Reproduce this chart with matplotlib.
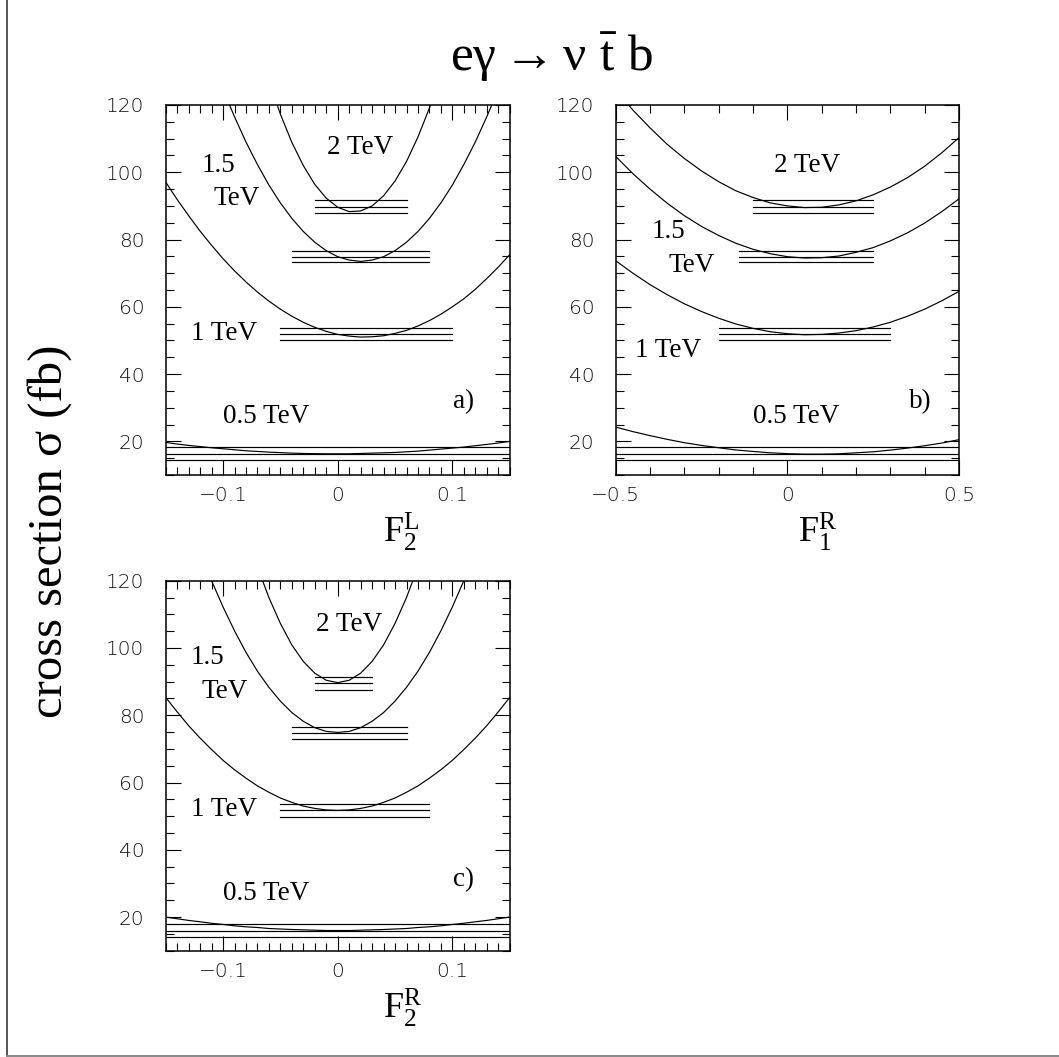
import numpy as np
import matplotlib
matplotlib.use("Agg")
import matplotlib.pyplot as plt
from matplotlib.ticker import MultipleLocator, FixedLocator, FixedFormatter
from matplotlib.lines import Line2D

plt.rcParams['mathtext.fontset'] = 'custom'
plt.rcParams['mathtext.rm'] = 'Liberation Serif'
plt.rcParams['mathtext.it'] = 'Liberation Serif'
plt.rcParams['mathtext.bf'] = 'Liberation Serif:bold'
plt.rcParams['mathtext.fallback'] = 'stix'

# ---------------- data ----------------
energies = ['0.5 TeV', '1 TeV', '1.5 TeV', '2 TeV']

# panel a)  F2L
xa_full = [-0.15, -0.14, -0.13, -0.12, -0.11, -0.10, -0.09, -0.08, -0.07, -0.06, -0.05,
           -0.04, -0.03, -0.02, -0.01, 0.00, 0.01, 0.02, 0.03, 0.04, 0.05, 0.06, 0.07,
           0.08, 0.09, 0.10, 0.11, 0.12, 0.13, 0.14, 0.15]
a_05 = [19.7, 19.2, 18.8, 18.45, 18.1, 17.8, 17.5, 17.2, 17.0, 16.8, 16.65, 16.5, 16.4, 16.35, 16.3,
        16.3, 16.3, 16.4, 16.5, 16.6, 16.7, 16.9, 17.1, 17.4, 17.7, 18.0, 18.3, 18.7, 19.1, 19.5, 20.0]
a_1 = [97.1, 91.9, 87.1, 82.5, 78.3, 74.3, 70.7, 67.4, 64.4, 61.7, 59.3, 57.2, 55.4, 53.9, 52.7,
       51.8, 51.3, 51.0, 51.1, 51.4, 52.1, 53.0, 54.3, 55.9, 57.8, 60.0, 62.4, 65.2, 68.4, 71.8, 75.5]
xa_15 = [-0.10, -0.09, -0.08, -0.07, -0.06, -0.05, -0.04, -0.03, -0.02, -0.01, 0.00, 0.01, 0.02,
         0.03, 0.04, 0.05, 0.06, 0.07, 0.08, 0.09, 0.10, 0.11, 0.12, 0.13, 0.14, 0.15]
a_15 = [124.6, 116.5, 109.0, 102.3, 96.2, 90.9, 86.3, 82.4, 79.2, 76.7, 74.9, 73.9, 73.5,
        73.9, 74.9, 76.7, 79.2, 82.4, 86.3, 90.9, 96.2, 102.3, 109.0, 116.5, 124.6, 133.5]
xa_2 = [-0.06, -0.05, -0.04, -0.03, -0.02, -0.01, 0.00, 0.01, 0.02, 0.03, 0.04, 0.05, 0.06,
        0.07, 0.08, 0.09]
a_2 = [127.1, 117.3, 108.9, 102.0, 96.4, 92.3, 89.6, 88.3, 88.5, 90.0, 93.0, 97.4, 103.2,
       110.5, 119.1, 129.2]

# panel b)  F1R
xb = [-0.50, -0.45, -0.40, -0.35, -0.30, -0.25, -0.20, -0.15, -0.10, -0.05, 0.00,
      0.05, 0.10, 0.15, 0.20, 0.25, 0.30, 0.35, 0.40, 0.45, 0.50]
b_05 = [24.25, 22.9, 21.7, 20.6, 19.6, 18.8, 18.1, 17.45, 17.0, 16.6, 16.35,
        16.2, 16.2, 16.3, 16.6, 16.9, 17.4, 18.0, 18.7, 19.5, 20.5]
b_1 = [73.7, 70.0, 66.6, 63.6, 60.9, 58.6, 56.6, 54.9, 53.6, 52.6, 52.0,
       51.7, 51.8, 52.2, 52.9, 54.0, 55.4, 57.2, 59.3, 61.8, 64.6]
b_15 = [104.7, 99.6, 95.0, 90.8, 87.1, 83.9, 81.2, 78.9, 77.1, 75.8, 74.9,
        74.5, 74.6, 75.1, 76.2, 77.6, 79.6, 82.0, 84.9, 88.3, 92.1]
b_2 = [124.5, 118.5, 113.2, 108.3, 104.1, 100.4, 97.2, 94.5, 92.5, 90.9, 90.0,
       89.5, 89.6, 90.3, 91.5, 93.3, 95.6, 98.4, 101.8, 105.8, 110.3]

# panel c)  F2R
xc_full = xa_full
c_05 = [20.0, 19.5, 19.0, 18.6, 18.15, 17.8, 17.4, 17.1, 16.9, 16.6, 16.45, 16.3, 16.2, 16.1, 16.0,
        16.0, 16.0, 16.1, 16.2, 16.3, 16.45, 16.6, 16.9, 17.1, 17.4, 17.8, 18.15, 18.6, 19.0, 19.5, 20.0]
c_1 = [85.3, 81.0, 76.9, 73.2, 69.8, 66.6, 63.8, 61.3, 59.0, 57.1, 55.4, 54.1, 53.0, 52.3, 51.85,
       51.7, 51.85, 52.3, 53.0, 54.1, 55.4, 57.1, 59.0, 61.3, 63.8, 66.6, 69.8, 73.2, 76.9, 81.0, 85.3]
xc_15 = [-0.12, -0.11, -0.10, -0.09, -0.08, -0.07, -0.06, -0.05, -0.04, -0.03, -0.02, -0.01, 0.00,
         0.01, 0.02, 0.03, 0.04, 0.05, 0.06, 0.07, 0.08, 0.09, 0.10, 0.11, 0.12]
c_15 = [128.6, 120.0, 112.2, 105.1, 98.7, 93.1, 88.3, 84.2, 80.8, 78.2, 76.3, 75.2, 74.9,
        75.2, 76.3, 78.2, 80.8, 84.2, 88.3, 93.1, 98.7, 105.1, 112.2, 120.0, 128.6]
xc_2 = [-0.07, -0.06, -0.05, -0.04, -0.03, -0.02, -0.01, 0.00, 0.01, 0.02, 0.03, 0.04, 0.05, 0.06, 0.07]
c_2 = [124.1, 115.0, 107.3, 100.9, 96.0, 92.5, 90.4, 89.7, 90.4, 92.5, 96.0, 100.9, 107.3, 115.0, 124.1]

# horizontal bands (SM value and limits): y levels and x-extent
a_band_y = [[18.2, 16.25, 14.35], [53.6, 51.9, 50.1], [76.6, 74.95, 73.2], [91.8, 89.8, 87.8]]
a_band_x = [[-0.15, 0.15], [-0.05, 0.10], [-0.04, 0.08], [-0.02, 0.06]]
b_band_y = [[18.2, 16.25, 14.35], [53.6, 51.9, 50.1], [76.6, 74.95, 73.2], [91.8, 89.8, 87.8]]
b_band_x = [[-0.5, 0.5], [-0.20, 0.30], [-0.14, 0.25], [-0.10, 0.25]]
c_band_y = [[18.0, 16.0, 14.0], [53.6, 51.7, 49.8], [76.6, 74.85, 73.0], [91.5, 89.5, 87.5]]
c_band_x = [[-0.15, 0.15], [-0.05, 0.08], [-0.04, 0.06], [-0.02, 0.03]]

y_ticks = [20, 40, 60, 80, 100, 120]
y_ticklabels = ['20', '40', '60', '80', '100', '120']
xac_ticks = [-0.1, 0.0, 0.1]
xac_ticklabels = ['\u22120.1', '0', '0.1']
xb_ticks = [-0.5, 0.0, 0.5]
xb_ticklabels = ['\u22120.5', '0', '0.5']

# ---------------- figure ----------------
W, H = 1059, 1057
fig = plt.figure(figsize=(W / 100, H / 100), dpi=100)

def fx(px):
    return px / W

def fy(py):
    return 1 - py / H

def make_axes(left, top, right, bottom):
    return fig.add_axes([fx(left), fy(bottom), fx(right) - fx(left), fy(top) - fy(bottom)])

ax_a = make_axes(165.7, 105, 509.7, 475)
ax_b = make_axes(615.7, 105, 959.0, 475)
ax_c = make_axes(165.7, 580.7, 509.7, 950.7)

serif = 'Liberation Serif'
tick_font = 'DejaVu Sans'
curve_kw = dict(color='black', lw=0.85)
band_kw = dict(color='black', lw=0.85)
lab_kw = dict(family=serif, fontsize=19.5, ha='left', va='baseline')


def style(ax, xlim, xticks, xlabels, xminor):
    ax.set_xlim(*xlim)
    ax.set_ylim(10, 120)
    ax.xaxis.set_major_locator(FixedLocator(xticks))
    ax.xaxis.set_major_formatter(FixedFormatter(xlabels))
    ax.xaxis.set_minor_locator(MultipleLocator(xminor))
    ax.yaxis.set_major_locator(FixedLocator(y_ticks))
    ax.yaxis.set_major_formatter(FixedFormatter(y_ticklabels))
    ax.yaxis.set_minor_locator(MultipleLocator(5))
    ax.tick_params(which='both', direction='in', top=True, right=True, width=0.8, color='black')
    ax.tick_params(which='major', length=11)
    ax.tick_params(which='minor', length=5.5)
    ax.tick_params(axis='y', which='major', pad=15.5, labelsize=14.5, labelcolor='#111111')
    ax.tick_params(axis='x', which='major', pad=8, labelsize=14.5, labelcolor='#111111')
    for lab in ax.get_xticklabels() + ax.get_yticklabels():
        lab.set_family(tick_font)
        lab.set_fontweight('light')
    for sp in ax.spines.values():
        sp.set_linewidth(1.1)


def bands(ax, ys, xs):
    for yl, xr in zip(ys, xs):
        for y in yl:
            ax.plot(xr, [y, y], **band_kw)


# panel a
ax_a.plot(xa_full, a_05, **curve_kw)
ax_a.plot(xa_full, a_1, **curve_kw)
ax_a.plot(xa_15, a_15, **curve_kw)
ax_a.plot(xa_2, a_2, **curve_kw)
bands(ax_a, a_band_y, a_band_x)
style(ax_a, (-0.15, 0.15), xac_ticks, xac_ticklabels, 0.01)
ax_a.text(-0.0096, 105.3, energies[3], **lab_kw)
ax_a.text(-0.1186, 100.2, '1.5', **lab_kw)
ax_a.text(-0.108, 90.3, 'TeV', **lab_kw)
ax_a.text(-0.128, 50.2, energies[1], **lab_kw)
ax_a.text(-0.0997, 25.4, energies[0], **lab_kw)
ax_a.text(0.1003, 29.9, 'a)', **lab_kw)
ax_a.text(0.632, -0.182, r'$\mathrm{F_2^L}$', transform=ax_a.transAxes,
          fontsize=26, ha='left', va='baseline')

# panel b
ax_b.plot(xb, b_05, **curve_kw)
ax_b.plot(xb, b_1, **curve_kw)
ax_b.plot(xb, b_15, **curve_kw)
ax_b.plot(xb, b_2, **curve_kw)
bands(ax_b, b_band_y, b_band_x)
style(ax_b, (-0.5, 0.5), xb_ticks, xb_ticklabels, 0.1)
ax_b.text(-0.039, 100.2, energies[3], **lab_kw)
ax_b.text(-0.395, 80.4, '1.5', **lab_kw)
ax_b.text(-0.347, 70.5, 'TeV', **lab_kw)
ax_b.text(-0.4437, 45.2, energies[1], **lab_kw)
ax_b.text(-0.099, 25.4, energies[0], **lab_kw)
ax_b.text(0.355, 29.9, 'b)', **lab_kw)
ax_b.text(0.53, -0.182, r'$\mathrm{F_1^R}$', transform=ax_b.transAxes,
          fontsize=26, ha='left', va='baseline')

# panel c
ax_c.plot(xc_full, c_05, **curve_kw)
ax_c.plot(xc_full, c_1, **curve_kw)
ax_c.plot(xc_15, c_15, **curve_kw)
ax_c.plot(xc_2, c_2, **curve_kw)
bands(ax_c, c_band_y, c_band_x)
style(ax_c, (-0.15, 0.15), xac_ticks, xac_ticklabels, 0.01)
ax_c.text(-0.0189, 105.0, energies[3], **lab_kw)
ax_c.text(-0.128, 95.25, '1.5', **lab_kw)
ax_c.text(-0.1186, 85.25, 'TeV', **lab_kw)
ax_c.text(-0.128, 50.1, energies[1], **lab_kw)
ax_c.text(-0.0997, 25.0, energies[0], **lab_kw)
ax_c.text(0.1009, 29.3, 'c)', **lab_kw)
ax_c.text(0.632, -0.182, r'$\mathrm{F_2^R}$', transform=ax_c.transAxes,
          fontsize=26, ha='left', va='baseline')

# title and common y label
fig.text(fx(551), fy(70.7), r'$\mathrm{e}\gamma \rightarrow \nu\ \bar{\mathrm{t}}\ \mathrm{b}$',
         fontsize=37, ha='center', va='baseline')
fig.text(fx(50), fy(531), 'cross section \u03c3 (fb)', family=serif, fontsize=35,
         rotation=90, ha='center', va='center')

# page frame (left and bottom edges)
fig.add_artist(Line2D([fx(7), fx(7)], [fy(1056), 1.0], transform=fig.transFigure,
                      color='#555555', lw=1.4))
fig.add_artist(Line2D([fx(7), 1.0], [fy(1056), fy(1056)], transform=fig.transFigure,
                      color='#888888', lw=1.4))

fig.savefig('out.png', dpi=100, facecolor='white')
